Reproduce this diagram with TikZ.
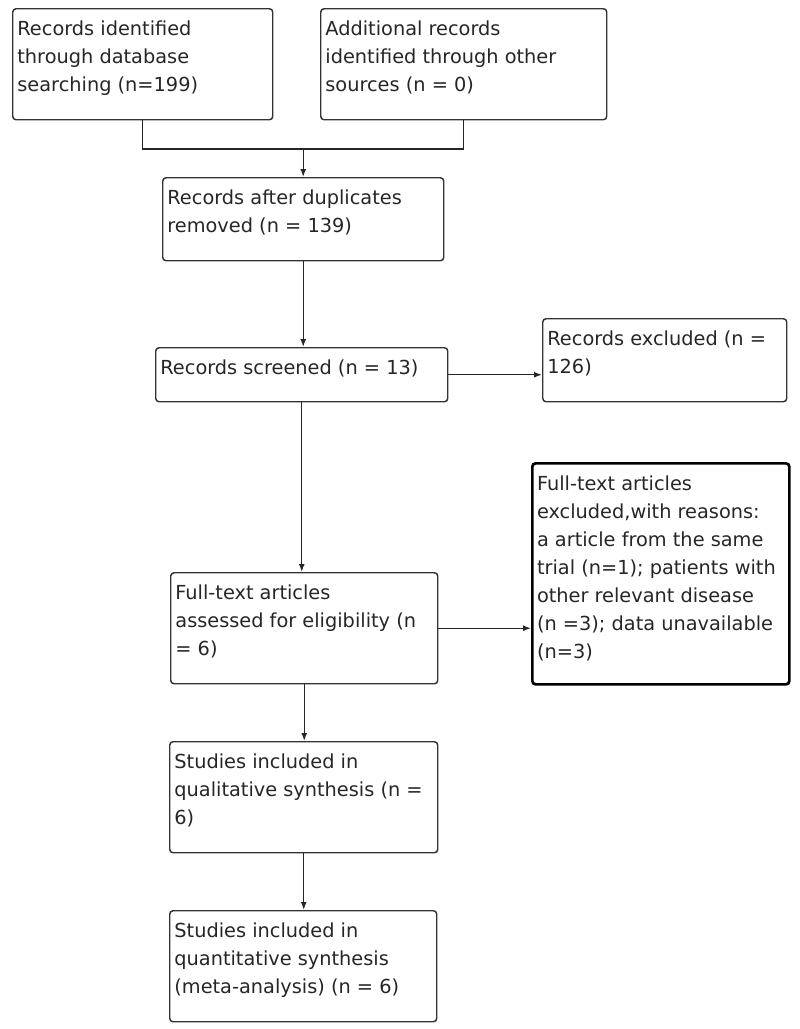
\documentclass[tikz,border=0pt]{standalone}
\usepackage{fontspec}
\setmainfont{DejaVu Sans}
\usepackage{tikz}
\usetikzlibrary{arrows,arrows.meta}

% top aligned text inside a box: width, height (pt), text
\newcommand{\boxtext}[3]{\parbox[t][#2pt][t]{#1pt}{\raggedright #3}}

\tikzset{
  stage/.style={draw=black!80, line width=1.1pt, rounded corners=2.5pt, anchor=north west,
    inner xsep=3.5pt, inner ysep=9pt, font=\fontsize{14.5}{21}\selectfont, text=black!85},
  flow/.style={draw=black!85, line width=1.1pt, >={Latex[length=6pt,width=4.5pt]}}
}

\begin{document}
\begin{tikzpicture}[x=0.75pt,y=-0.75pt]
  \useasboundingbox (0,0) rectangle (800,1029);

  \draw (12,8) node[stage] (ident) {\boxtext{188}{65.25}{Records identified\\through database\\searching (n=199)}};
  \draw (320,8) node[stage] (other) {\boxtext{207.5}{65.25}{Additional records\\identified through other\\sources (n = 0)}};
  \draw (162,177) node[stage] (dup) {\boxtext{203.75}{44.25}{Records after duplicates\\removed (n = 139)}};
  \draw (155,347) node[stage] (screen) {\boxtext{212}{22.5}{Records screened (n = 13)}};
  \draw (542,318) node[stage] (excl) {\boxtext{176}{44.25}{Records excluded (n =\\126)}};
  \draw (170,572) node[stage] (elig) {\boxtext{193.25}{65.25}{Full-text articles\\assessed for eligibility (n\\= 6)}};
  \draw (531,462) node[stage, line width=2pt, draw=black] (reasons) {\boxtext{185.75}{147.75}{Full-text articles\\excluded,with reasons:\\a article from the same\\trial (n=1); patients with\\other relevant disease\\(n =3); data unavailable\\(n=3)}};
  \draw (169,741) node[stage] (qual) {\boxtext{194}{65.25}{Studies included in\\qualitative synthesis (n =\\6)}};
  \draw (169,910) node[stage] (quant) {\boxtext{193.25}{65.25}{Studies included in\\quantitative synthesis\\(meta-analysis) (n = 6)}};

  \path (dup.north) ++(0,-28) coordinate (join);
  \draw[flow] (ident.south) |- (join) -| (other.south);
  \draw[flow,->] (join) -- (dup.north);
  \draw[flow,->] (dup.south) -- (dup.south |- screen.north);
  \draw[flow,->] (screen.east) -- (screen.east -| excl.west);
  \draw[flow,->] (screen.south) -- (screen.south |- elig.north);
  \draw[flow,->] (elig.east) -- (elig.east -| reasons.west);
  \draw[flow,->] (elig.south) -- (elig.south |- qual.north);
  \draw[flow,->] (qual.south) -- (qual.south |- quant.north);

\end{tikzpicture}
\end{document}
